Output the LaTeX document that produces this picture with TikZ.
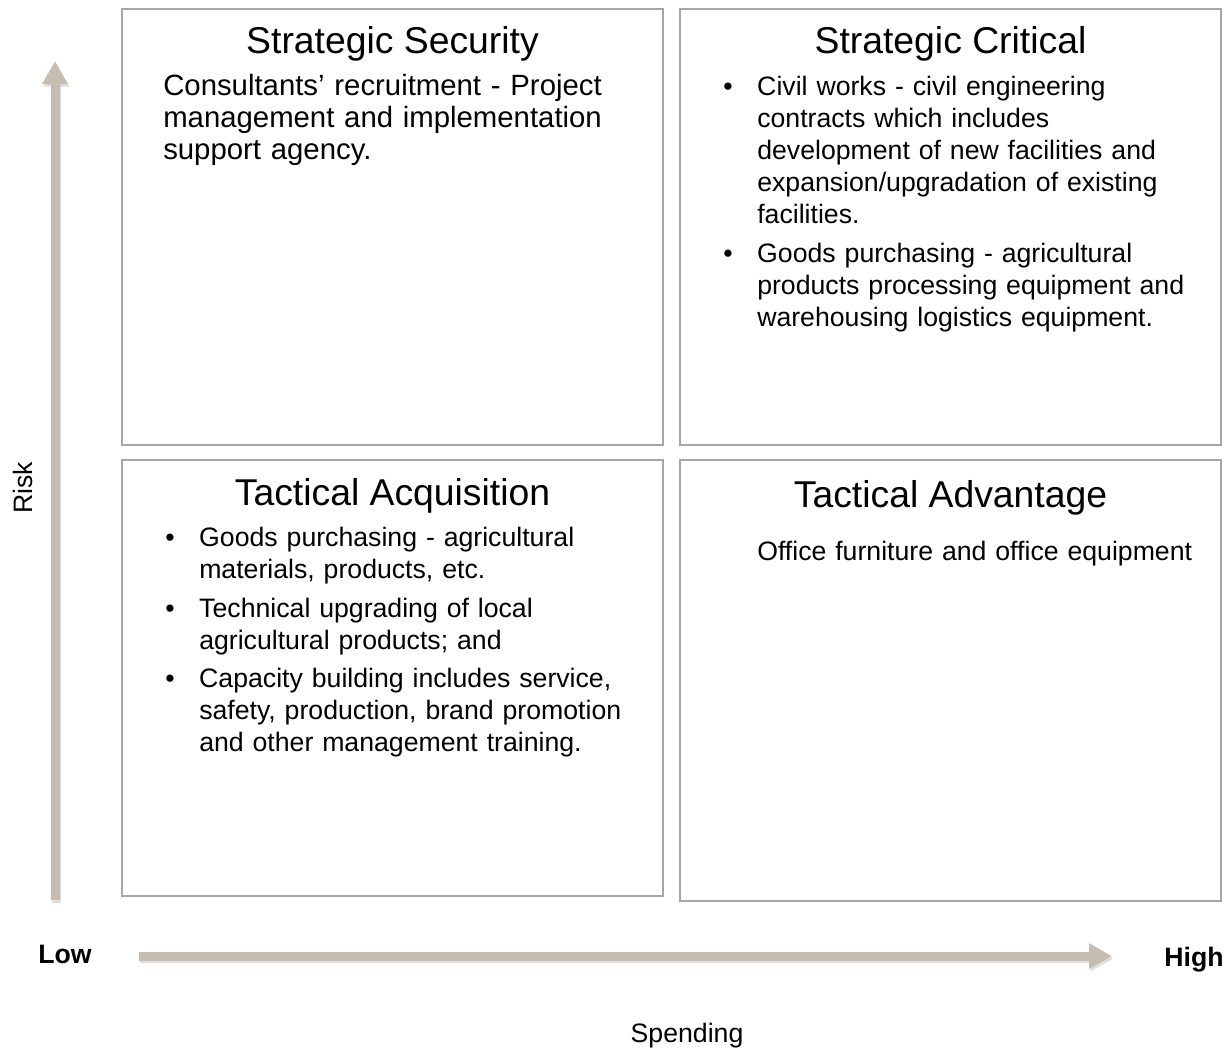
\documentclass[tikz,border=0pt]{standalone}
\usepackage{fontspec}
\setmainfont{Liberation Sans}
\usetikzlibrary{arrows.meta,fit}
\definecolor{boxgray}{RGB}{166,166,166}
\definecolor{axisbeige}{RGB}{197,189,175}

% manual line break that keeps the hanging indent
\newcommand{\nl}{\hfil\break}
% bullet line with hanging indent
\newcommand{\quaditem}[1]{\hangindent=25.5pt\hangafter=1\noindent\hbox to 25.5pt{\textbullet\hss}#1\par}

\begin{document}
\begin{tikzpicture}[x=0.75pt,y=-0.75pt,
  quad/.style={draw=boxgray,line width=2.2pt,inner sep=0pt},
  quadtitle/.style={anchor=base,inner sep=0pt,font=\fontsize{28}{34}\selectfont},
  quadtext/.style={anchor=north west,inner sep=0pt,text width=360pt,font=\fontsize{20}{24}\selectfont\setlength{\parindent}{0pt}},
  axislabel/.style={inner sep=0pt,anchor=base,font=\fontsize{20}{24}\selectfont},
  axisarrow/.style={draw=axisbeige,line width=6.75pt,-{Triangle[length=17.25pt,width=18pt]}},
  axisshadow/.style={draw=black,opacity=.13,line width=6.75pt,-{Triangle[length=17.25pt,width=18pt]}}]
  \useasboundingbox (0,0) rectangle (1231,1051);

  % the four quadrants
  \node[quad,fit={(122,9) (663,445)}] (ss) {};
  \node[quad,fit={(680,9) (1221,445)}] (sc) {};
  \node[quad,fit={(122,460) (663,896)}] (ta) {};
  \node[quad,fit={(680,460) (1221,901)}] (tv) {};

  \node[quadtitle] (sstitle) at (ss.north |- 0,53.5) {Strategic Security};
  \node[quadtitle] (sctitle) at (sc.north |- 0,53.5) {Strategic Critical};
  \node[quadtitle] (tatitle) at (ta.north |- 0,505) {Tactical Acquisition};
  \node[quadtitle] (tvtitle) at (tv.north |- 0,507) {Tactical Advantage};

  \node[quadtext,font=\fontsize{22}{24.2}\selectfont\setlength{\parindent}{0pt}] (sstext) at (163,73.5) {Consultants' recruitment - Project\nl management and implementation\nl support agency.};
  \node[quadtext] (sctext) at (723,76) {%
    \quaditem{Civil works - civil engineering\nl contracts which includes\nl development of new facilities and\nl expansion/upgradation of existing\nl facilities.}\vspace{5pt}
    \quaditem{Goods purchasing - agricultural\nl products processing equipment and\nl warehousing logistics equipment.}};
  \node[quadtext] (tatext) at (165,527) {%
    \quaditem{Goods purchasing - agricultural\nl materials, products, etc.}\vspace{5pt}
    \quaditem{Technical upgrading of local\nl agricultural products; and}\vspace{5pt}
    \quaditem{Capacity building includes service,\nl safety, production, brand promotion\nl and other management training.}};
  \node[quadtext] (tvtext) at (757,541) {Office furniture and office equipment};

  % axes
  \coordinate (riskfoot) at (55,900);
  \coordinate (risktip) at (55,61);
  \coordinate (spendfoot) at (139,956);
  \coordinate (spendtip) at (1112,956);
  \draw[axisshadow,transform canvas={shift={(1pt,-2pt)}}] (riskfoot) -- (risktip);
  \draw[axisshadow,transform canvas={shift={(1pt,-2pt)}}] (spendfoot) -- (spendtip);
  \draw[axisarrow] (riskfoot) -- (risktip);
  \draw[axisarrow] (spendfoot) -- (spendtip);

  \node[axislabel,rotate=90] (risk) at (32,488) {Risk};
  \node[axislabel] (spending) at (687,1042) {Spending};
  \node[axislabel,font=\fontsize{20}{24}\selectfont\bfseries] (low) at (65,963) {Low};
  \node[axislabel,font=\fontsize{20}{24}\selectfont\bfseries] (high) at (1194,966) {High};
\end{tikzpicture}
\end{document}
